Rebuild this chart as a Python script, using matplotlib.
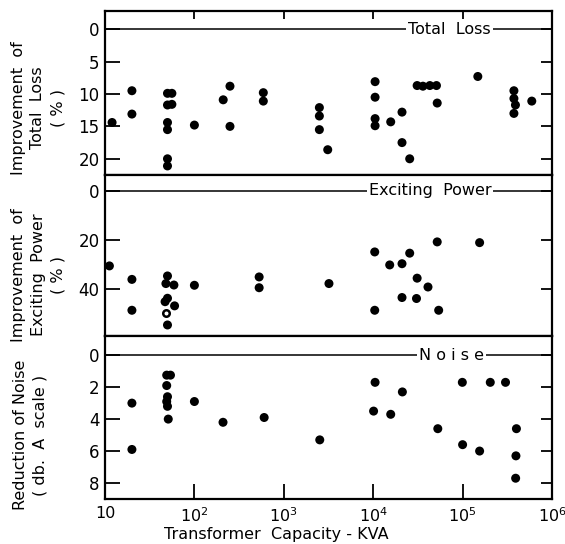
import numpy as np
import matplotlib
matplotlib.use('Agg')
import matplotlib.pyplot as plt
import matplotlib.transforms as mtransforms
from matplotlib.ticker import FixedLocator, FuncFormatter

# Total loss improvement (%)
loss_kva = [12, 20, 20, 50, 56, 50, 56, 50, 50, 50, 50, 100, 210, 250, 250,
            590, 590, 2500, 2500, 2500, 3100, 10500, 10500, 10500, 10500,
            15700, 21000, 21000, 25600, 31000, 36000, 43000, 51000, 52000,
            148000, 375000, 375000, 390000, 375000, 594000]
loss_pct = [14.4, 9.5, 13.1, 9.9, 9.9, 11.7, 11.6, 14.4, 15.5, 20.0, 21.1, 14.8,
            10.9, 8.8, 15.0, 9.8, 11.1, 12.1, 13.4, 15.5, 18.6, 8.1, 10.5, 13.8,
            14.9, 14.3, 12.8, 17.5, 20.0, 8.7, 8.8, 8.7, 8.7, 11.4, 7.3, 9.5,
            10.7, 11.7, 13.0, 11.1]

# Exciting power improvement (%)
exc_kva = [11.2, 20, 20, 50, 48, 59, 50, 47, 60, 50, 100, 530, 530, 3200,
           10400, 10400, 15300, 21000, 25600, 31000, 21000, 30500, 41000,
           52000, 54000, 155000]
exc_pct = [30.6, 36.1, 48.7, 34.7, 37.8, 38.4, 43.8, 45.2, 46.9, 54.7, 38.5,
           35.1, 39.5, 37.8, 24.9, 48.7, 30.2, 29.7, 25.4, 35.6, 43.5, 43.9,
           39.2, 20.8, 48.7, 21.1]
exc_open_kva = [48]
exc_open_pct = [49.7]

# Noise reduction (db, A scale)
noise_kva = [20, 20, 49, 54, 49, 50, 49, 50, 51, 100, 209, 603, 2525, 10500,
             10100, 15700, 21200, 52800, 99300, 100000, 155000, 204000, 302000,
             400000, 395000, 392000]
noise_db = [3.0, 5.9, 1.25, 1.25, 1.9, 2.6, 2.9, 3.2, 4.0, 2.9, 4.2, 3.9, 5.3,
            1.7, 3.5, 3.7, 2.3, 4.6, 1.7, 5.6, 6.0, 1.7, 1.7, 4.6, 6.3, 7.7]

decades = [10, 1e2, 1e3, 1e4, 1e5, 1e6]

fig = plt.figure(figsize=(5.65, 5.44), dpi=100)
left, width = 105 / 565, 447 / 565
ax1 = fig.add_axes([left, 1 - 175 / 544, width, 164 / 544])
ax2 = fig.add_axes([left, 1 - 336 / 544, width, 161 / 544])
ax3 = fig.add_axes([left, 1 - 499 / 544, width, 163 / 544])

panels = [
    (ax1, loss_kva, loss_pct, (22.5, -2.8), [0, 5, 10, 15, 20], 'Total  Loss', 0.77),
    (ax2, exc_kva, exc_pct, (59.2, -6.5), [0, 20, 40], 'Exciting  Power', 0.727),
    (ax3, noise_kva, noise_db, (9.0, -1.2), [0, 2, 4, 6, 8], 'N o i s e', 0.776),
]

for ax, xs, ys, ylim, yt, title, tx in panels:
    ax.set_xscale('log')
    ax.set_xlim(10, 1e6)
    ax.set_ylim(*ylim)
    ax.scatter(xs, ys, s=42, c='black', edgecolors='none', zorder=3)
    ax.axhline(0, color='black', lw=1.1, zorder=1)
    trans = mtransforms.blended_transform_factory(ax.transAxes, ax.transData)
    ax.text(tx, 0, title, transform=trans, ha='center', va='center', fontsize=11.5,
            bbox=dict(facecolor='white', edgecolor='none', pad=1.5), zorder=2)
    for sp in ax.spines.values():
        sp.set_linewidth(1.6)
    ax.yaxis.set_major_locator(FixedLocator(yt))
    ax.tick_params(axis='y', which='major', direction='in', left=True, right=True,
                   length=8, width=1.3, labelsize=12, pad=4)
    ax.tick_params(axis='y', which='minor', left=False, right=False)
    for t in ax.yaxis.get_major_ticks():
        t.tick1line.set_markersize(11)
    ax.xaxis.set_major_locator(FixedLocator(decades))
    ax.xaxis.set_minor_locator(FixedLocator([]))
    ax.tick_params(axis='x', which='major', direction='in', bottom=False, top=False,
                   labelbottom=False, labeltop=False)

ax2.scatter(exc_open_kva, exc_open_pct, s=22, facecolors='white', edgecolors='black',
            linewidths=1.8, zorder=3)

ax1.tick_params(axis='x', top=True, length=6, width=1.3)
ax3.tick_params(axis='x', bottom=True, labelbottom=True, length=11, width=1.3,
                labelsize=11.5, pad=5)


def fmt(v, pos):
    e = int(round(np.log10(v)))
    return '10' if e == 1 else r'$10^{%d}$' % e


ax3.xaxis.set_major_formatter(FuncFormatter(fmt))

fig.text(276 / 565, 1 - 534 / 544, 'Transformer  Capacity - KVA', ha='center',
         va='center', fontsize=11.5)
fig.text(38 / 565, 1 - 108 / 544, 'Improvement  of\nTotal  Loss\n( % )', rotation=90,
         ha='center', va='center', fontsize=11.5, multialignment='center', linespacing=1.4)
fig.text(38 / 565, 1 - 275 / 544, 'Improvement  of\nExciting  Power\n( % )', rotation=90,
         ha='center', va='center', fontsize=11.5, multialignment='center', linespacing=1.4)
fig.text(30 / 565, 1 - 435 / 544, 'Reduction of Noise\n( db.  A  scale )', rotation=90,
         ha='center', va='center', fontsize=11.5, multialignment='center', linespacing=1.4)

fig.savefig('out.png', dpi=100)
